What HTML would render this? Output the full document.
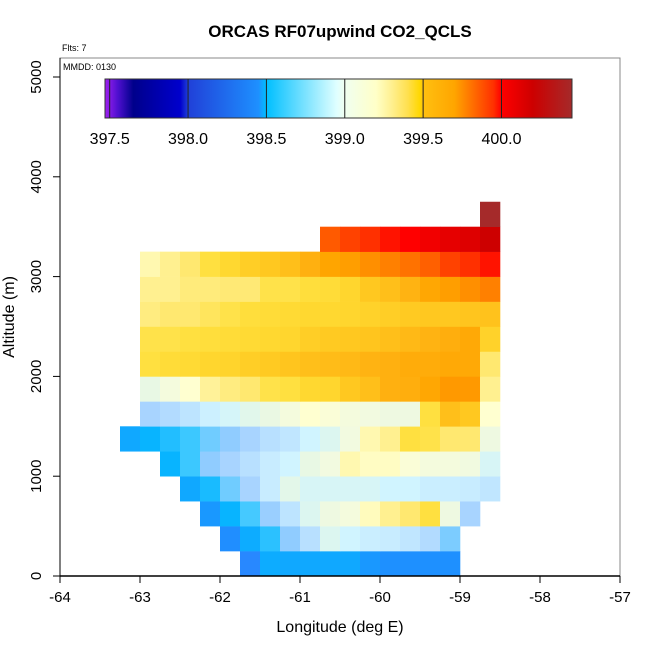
<!DOCTYPE html>
<html><head><meta charset="utf-8"><style>
body{margin:0;background:#fff;}
svg{display:block;font-family:"Liberation Sans",Arial,sans-serif;}
</style></head><body>
<svg id="c" width="650" height="650" viewBox="0 0 650 650"></svg>
<script>
const lonStart=-63.25, cellW=0.25, cellH=250;
const rowStart=[6,5,4,3,2,0,1,1,1,1,1,1,1,10,18];
const row0=[398.40,398.48,398.47,398.47,398.47,398.47,398.45,398.44,398.44,398.44,398.44];
const row1=[398.43,398.48,398.54,398.70,398.80,398.95,398.90,398.87,398.86,398.83,398.78,398.65];
const row2=[398.45,398.50,398.57,398.72,398.82,398.95,399.05,399.10,399.23,399.32,399.38,399.43,399.05,398.75];
const row3=[398.47,398.52,398.62,398.75,398.86,398.98,398.93,398.93,398.93,398.93,398.90,398.90,398.87,398.87,398.86,398.83];
const row4=[398.50,398.56,398.70,398.75,398.80,398.86,398.90,399.00,399.08,399.25,399.22,399.22,399.15,399.10,399.10,399.07,398.93];
const row5=[398.47,398.50,398.53,398.56,398.62,398.70,398.75,398.80,398.83,398.90,398.95,399.08,399.25,399.32,399.43,399.42,399.38,399.38,399.05];
const row6=[398.75,398.78,398.82,398.88,398.92,398.97,399.02,399.10,399.20,399.15,399.10,399.08,399.05,399.05,399.43,399.58,399.55,399.20];
const row7=[399.00,399.10,399.20,399.30,399.35,399.38,399.42,399.43,399.47,399.48,399.55,399.58,399.63,399.64,399.67,399.75,399.75,399.32];
const row8=[399.43,399.45,399.46,399.48,399.49,399.52,399.54,399.56,399.58,399.59,399.60,399.62,399.63,399.65,399.65,399.66,399.66,399.38];
const row9=[399.42,399.42,399.43,399.44,399.45,399.46,399.47,399.48,399.52,399.54,399.55,399.56,399.58,399.60,399.62,399.64,399.66,399.50];
const row10=[399.35,399.38,399.38,399.40,399.42,399.44,399.45,399.46,399.47,399.47,399.48,399.50,399.52,399.54,399.55,399.55,399.56,399.57];
const row11=[399.32,399.32,399.36,399.36,399.37,399.37,399.42,399.42,399.44,399.45,399.48,399.55,399.58,399.62,399.67,399.72,399.77,399.80];
const row12=[399.25,399.32,399.38,399.43,399.47,399.52,399.55,399.58,399.63,399.68,399.72,399.77,399.80,399.83,399.87,399.92,399.95,399.98];
const row13=[399.88,399.92,399.95,399.98,400.00,400.05,400.10,400.13,400.20];
const row14=[400.45];
const rows=[row0,row1,row2,row3,row4,row5,row6,row7,row8,row9,row10,row11,row12,row13,row14];
const xTicks=[-64,-63,-62,-61,-60,-59,-58,-57];
const yTicks=[0,1000,2000,3000,4000,5000];
const cbTicks=[397.5,398.0,398.5,399.0,399.5,400.0];
// colour scale (value -> colour)
const stopV=[397.47,397.55,397.65,397.95,398.0,398.40,398.44,398.47,398.50,398.56,398.62,398.70,398.75,398.80,398.86,398.90,398.95,399.0,399.08,399.20,399.25,399.32,399.38,399.43,399.47,399.55,399.63,399.68,399.75,399.80,399.87,399.95,400.0,400.2,400.45];
const stopC=["#a020f0","#5010d0","#00008b","#0000cd","#2040d8","#2888ff","#1e90ff","#10a8ff","#08b4ff","#3cc8ff","#70ccff","#90ccff","#a8d4ff","#b8e0ff","#c8ecff","#d0f4ff","#dcf6f0","#e8f8e4","#f2fae0","#ffffd0","#fff8b0","#fff090","#ffe870","#ffe040","#ffd830","#ffc820","#ffb010","#ffa500","#ff9900","#ff8000","#ff6000","#ff3000","#ff0000","#cd0000","#a52a2a"];
// colourbar gradient stops
const barV=[397.47,397.55,397.65,397.95,398.0,398.45,398.5,398.95,399.0,399.2,399.3,399.4,399.48,399.5,399.7,399.95,400.0,400.2,400.45];
const barC=["#a020f0","#5010d0","#00008b","#0000cd","#2040d8","#1e90ff","#00bfff","#e0ffff","#f0fff0","#ffffc8","#fff090","#ffe050","#ffd700","#ffc010","#ffa500","#ff3000","#ff0000","#cd0000","#a52a2a"];

const X=v=>60+(v+64)*80, Y=v=>576-v*0.0998;
const CBX=v=>105+(v-397.47)/(400.45-397.47)*467;
function hex(c){return [1,3,5].map(i=>parseInt(c.substr(i,2),16));}
function col(v){
  if(v<=stopV[0])return stopC[0];
  for(let i=1;i<stopV.length;i++){ if(v<=stopV[i]){const t=(v-stopV[i-1])/(stopV[i]-stopV[i-1]);const a=hex(stopC[i-1]),b=hex(stopC[i]);return "rgb("+a.map((x,j)=>Math.round(x+(b[j]-x)*t)).join(",")+")";}}
  return stopC[stopC.length-1];
}
const svg=document.getElementById('c');const NS="http://www.w3.org/2000/svg";
function el(t,a,p){const e=document.createElementNS(NS,t);for(const k in a)e.setAttribute(k,a[k]);(p||svg).appendChild(e);return e;}

const g=el('g',{});


rows.forEach((r,k)=>r.forEach((v,j)=>{
  const lon=lonStart+(rowStart[k]+j)*cellW;
  const x0=X(lon),x1=X(lon+cellW),y0=Y((k+1)*cellH),y1=Y(k*cellH);
  const e=el('rect',{x:x0,y:y0,width:x1-x0+0.3,height:y1-y0+0.3,fill:col(v)},g);
  
  
}));

const box=el('rect',{x:60,y:58,width:560,height:518,fill:'none',stroke:'#888','stroke-width':1});


el('line',{x1:60,y1:576,x2:620,y2:576,stroke:'#000','stroke-width':1.5});
el('line',{x1:60,y1:58,x2:60,y2:576,stroke:'#000','stroke-width':1});

xTicks.forEach(v=>{el('line',{x1:X(v),y1:576,x2:X(v),y2:583,stroke:'#000'});
  const t=el('text',{x:X(v),y:602,'text-anchor':'middle','font-size':15});t.textContent=v;
  
  });
yTicks.forEach(v=>{el('line',{x1:53,y1:Y(v),x2:60,y2:Y(v),stroke:'#000'});
  const t=el('text',{x:0,y:0,'text-anchor':'middle','font-size':15,transform:`translate(41,${Y(v)}) rotate(-90)`});t.textContent=v;
  
  });

const defs=el('defs',{});const lg=el('linearGradient',{id:'gr',x1:0,x2:1,y1:0,y2:0},defs);
barV.forEach((v,i)=>el('stop',{offset:(v-397.47)/(400.45-397.47),'stop-color':barC[i]},lg));
const cb=el('rect',{x:105,y:79,width:467,height:39,fill:'url(#gr)',stroke:'#333'});


cbTicks.forEach(v=>{el('line',{x1:CBX(v),y1:79,x2:CBX(v),y2:118,stroke:'#222'});
  const t=el('text',{x:CBX(v),y:144,'text-anchor':'middle','font-size':16});t.textContent=v.toFixed(1);
  
  });
</script>
<div style="position:absolute;left:0;top:0;width:650px;height:650px;pointer-events:none">
<svg width="650" height="650">
<text x="340" y="37" text-anchor="middle" font-size="17" font-weight="bold" font-family="Liberation Sans, sans-serif">ORCAS RF07upwind CO2_QCLS</text>
<text x="62" y="51" font-size="9" font-family="Liberation Sans, sans-serif">Flts: 7</text>
<text x="63" y="70" font-size="9" font-family="Liberation Sans, sans-serif">MMDD: 0130</text>
<text x="340" y="632" text-anchor="middle" font-size="16" font-family="Liberation Sans, sans-serif">Longitude (deg E)</text>
<text transform="translate(14,317) rotate(-90)" text-anchor="middle" font-size="16" font-family="Liberation Sans, sans-serif">Altitude (m)</text>
</svg></div>
</body></html>
